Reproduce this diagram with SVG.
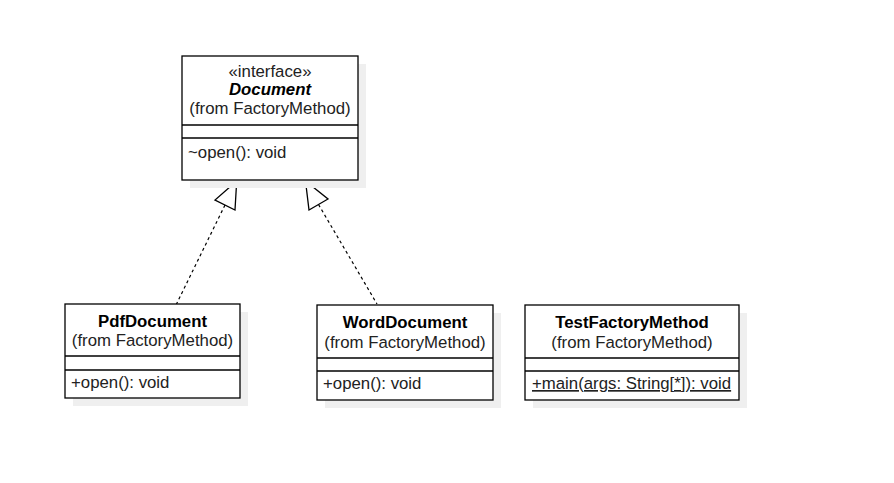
<svg xmlns="http://www.w3.org/2000/svg" width="894" height="483" viewBox="0 0 894 483">
<style>
.shadow{fill:#efefef;stroke:none}
.box{fill:#ffffff;stroke:#000000;stroke-width:1.3}
.sep{stroke:#000000;stroke-width:1.3;fill:none}
text{font-family:"Liberation Sans",Arial,sans-serif;font-size:16.8px;fill:#222222}
.c{text-anchor:middle}
.b{font-weight:bold;fill:#000000}
.bi{font-weight:bold;font-style:italic;fill:#000000}
.dash{stroke:#000000;stroke-width:1.2;stroke-dasharray:3,3;fill:none}
.tri{fill:#ffffff;stroke:#000000;stroke-width:1.3;stroke-linejoin:miter}
</style>
<rect width="894" height="483" fill="#ffffff"/>
<g id="connectors">
<line class="dash" x1="225" y1="205" x2="176.5" y2="304"/>
<polygon class="tri" points="236.7,181 215,200 235,210"/>
<line class="dash" x1="318.5" y1="204.5" x2="377" y2="304"/>
<polygon class="tri" points="305.5,181 328,199 309,210"/>
</g>
<g id="Document">
<rect class="shadow" x="190" y="64" width="176" height="124"/>
<rect class="box" x="182" y="56" width="176" height="124"/>
<line class="sep" x1="182" y1="125" x2="358" y2="125"/>
<line class="sep" x1="182" y1="138" x2="358" y2="138"/>
<text class="c" x="270" y="77">«interface»</text>
<text class="c bi" x="270" y="95">Document</text>
<text class="c" x="270" y="114">(from FactoryMethod)</text>
<text x="188" y="158">~open(): void</text>
</g>
<g id="PdfDocument">
<rect class="shadow" x="73" y="312" width="175" height="94"/>
<rect class="box" x="65" y="304" width="175" height="94"/>
<line class="sep" x1="65" y1="356" x2="240" y2="356"/>
<line class="sep" x1="65" y1="370" x2="240" y2="370"/>
<text class="c b" x="152.5" y="327">PdfDocument</text>
<text class="c" x="152.5" y="346">(from FactoryMethod)</text>
<text x="71" y="388">+open(): void</text>
</g>
<g id="WordDocument">
<rect class="shadow" x="325" y="313" width="176" height="95"/>
<rect class="box" x="317" y="305" width="176" height="95"/>
<line class="sep" x1="317" y1="358" x2="493" y2="358"/>
<line class="sep" x1="317" y1="371" x2="493" y2="371"/>
<text class="c b" x="405" y="328">WordDocument</text>
<text class="c" x="405" y="348">(from FactoryMethod)</text>
<text x="323" y="389">+open(): void</text>
</g>
<g id="TestFactoryMethod">
<rect class="shadow" x="533" y="313" width="214" height="95"/>
<rect class="box" x="525" y="305" width="214" height="95"/>
<line class="sep" x1="525" y1="358" x2="739" y2="358"/>
<line class="sep" x1="525" y1="371" x2="739" y2="371"/>
<text class="c b" x="632" y="328">TestFactoryMethod</text>
<text class="c" x="632" y="348">(from FactoryMethod)</text>
<text x="532" y="389" text-decoration="underline">+main(args: String[*]): void</text>
</g>
</svg>
